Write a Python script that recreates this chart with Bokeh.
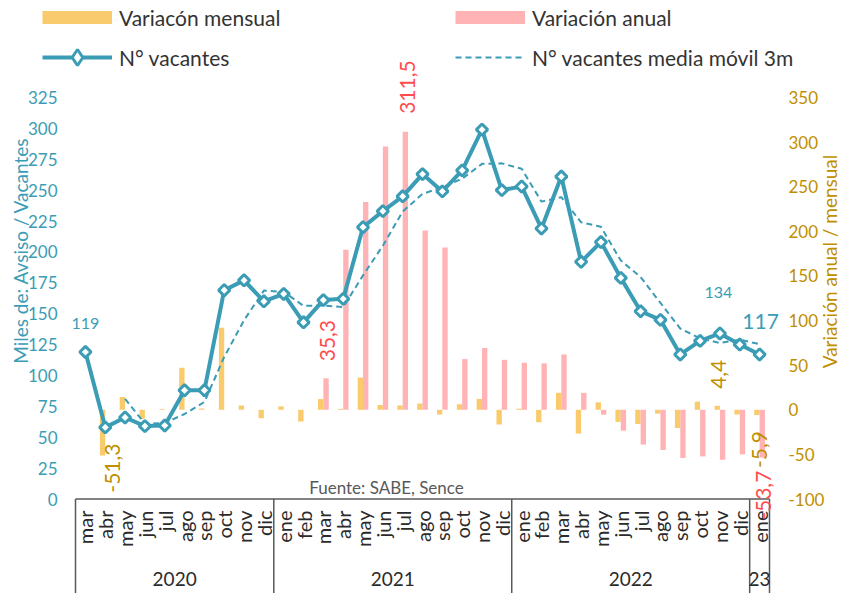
import math
from bokeh.plotting import figure
from bokeh.models import ColumnDataSource, Range1d, Legend, LegendItem
from bokeh.core.properties import value
from bokeh.transform import dodge
from bokeh.embed import file_html
from bokeh.resources import INLINE

NAN = float("nan")

# ---------------- data ----------------
meses = ["mar", "abr", "may", "jun", "jul", "ago", "sep", "oct", "nov", "dic",
         "ene", "feb", "mar", "abr", "may", "jun", "jul", "ago", "sep", "oct", "nov", "dic",
         "ene", "feb", "mar", "abr", "may", "jun", "jul", "ago", "sep", "oct", "nov", "dic",
         "ene"]
anios = ["2020"] * 10 + ["2021"] * 12 + ["2022"] * 12 + ["23"]

vacantes = [119, 58, 66, 59, 59.5, 88, 88, 169, 177, 160,
            166, 143, 161, 162, 220, 233, 245, 263, 249, 266, 299, 250,
            253, 219, 261, 192, 208, 179, 152, 145, 117, 128, 134, 125,
            117]
media_movil = [NAN, NAN, 81.0, 61.0, 61.5, 68.8, 78.5, 115.0, 144.7, 168.7,
               167.7, 156.3, 156.7, 155.3, 181.0, 205.0, 232.7, 247.0, 252.3, 259.3, 271.3, 271.7,
               267.3, 240.7, 244.3, 224.0, 220.3, 193.0, 179.7, 158.7, 138.0, 130.0, 126.3, 129.0,
               125.3]
var_mensual = [NAN, -51.3, 14.4, -10.0, 0.8, 47.0, 1.5, 92.0, 4.8, -9.5,
               3.8, -13.2, 12.0, 1.0, 36.0, 5.4, 4.8, 7.0, -5.4, 6.2, 12.2, -16.5,
               1.2, -14.0, 19.0, -26.7, 8.4, -13.6, -16.0, -4.3, -20.4, 9.2, 4.4, -5.3,
               -5.9]
var_anual = [NAN] * 12 + [35.3, 179.4, 233.0, 295.0, 311.5, 200.8, 182.0, 56.8, 69.2, 56.0,
                          52.7, 52.0, 62.0, 19.0, -5.5, -23.4, -39.0, -45.0, -54.0, -52.3, -56.0, -50.0,
                          -53.7]

ticks_izq = [0, 25, 50, 75, 100, 125, 150, 175, 200, 225, 250, 275, 300, 325]
ticks_der = [-100, -50, 0, 50, 100, 150, 200, 250, 300, 350]

etiq_mensual = [1, 32, 34]
etiq_anual = [12, 16, 34]
etiq_vac = [0, 32, 34]

titulo_izq = "Miles de: Avsiso / Vacantes"
titulo_der = "Variación anual / mensual"
fuente = "Fuente: SABE, Sence"

# ---------------- style / geometry ----------------
TEAL = "#3B9CB5"
ORANGE = "#F9CB6C"
PINK = "#FFB3B5"
GOLD = "#BF8F00"
RED = "#FF4D4D"
GRAY = "#595959"
DARK = "#2B2B2B"
FONT = "Lato"

W, H = 846, 593
n = len(meses)
PLOT_L, PLOT_R = 75.0, 769.0          # category band in pixels
X_PPU = (PLOT_R - PLOT_L) / n
xr0 = -PLOT_L / X_PPU
xr1 = n + (W - PLOT_R) / X_PPU

ZERO_PX, TOP_PX = 498.5, 97.0         # left 0 / right -100 ; left 325 / right 350
L_PPU = (ZERO_PX - TOP_PX) / 325.0
yl0 = -(H - ZERO_PX) / L_PPU
yl1 = 325 + TOP_PX / L_PPU
R_PPU = (ZERO_PX - TOP_PX) / 450.0
yr0 = -100 - (H - ZERO_PX) / R_PPU
yr1 = 350 + TOP_PX / R_PPU


def px_x(px):      # pixel column -> x data
    return (px - PLOT_L) / X_PPU


def px_yl(py):     # pixel row -> left-axis data
    return (ZERO_PX - py) / L_PPU


BW = 0.27

x = [i + 0.5 for i in range(n)]
src = ColumnDataSource(dict(x=x, mes=meses, vac=vacantes, mm=media_movil,
                            mens=var_mensual, anual=var_anual))

p = figure(width=W, height=H, output_backend="svg", toolbar_location=None,
           x_range=Range1d(xr0, xr1), y_range=Range1d(yl0, yl1),
           x_axis_location=None, y_axis_location=None,
           min_border_left=0, min_border_right=0, min_border_top=0, min_border_bottom=0,
           outline_line_color=None, border_fill_color="white",
           background_fill_color="white")
p.grid.visible = False
p.extra_y_ranges = {"r": Range1d(yr0, yr1)}

# axis tick labels
p.text(x=[px_x(57)] * len(ticks_izq), y=ticks_izq, text=[str(t) for t in ticks_izq],
       text_align="right", text_baseline="middle", text_font=value(FONT),
       text_font_size="17px", text_color=TEAL)
p.text(x=[px_x(788)] * len(ticks_der), y=ticks_der, text=[str(t) for t in ticks_der],
       y_range_name="r", text_align="left", text_baseline="middle", text_font=value(FONT),
       text_font_size="17px", text_color=GOLD)

# axis titles
p.text(x=[px_x(19.5)], y=[px_yl(250)], text=[titulo_izq], angle=math.pi / 2,
       text_align="center", text_baseline="middle", text_font=value(FONT),
       text_font_size="19px", text_color=TEAL)
p.text(x=[px_x(829)], y=[px_yl(261)], text=[titulo_der], angle=math.pi / 2,
       text_align="center", text_baseline="middle", text_font=value(FONT),
       text_font_size="19px", text_color=GOLD)

# bars
p.vbar(x=dodge("x", -BW / 2), top="mens", bottom=0, width=BW, source=src,
       y_range_name="r", fill_color=ORANGE, line_color=None)
p.vbar(x=dodge("x", BW / 2), top="anual", bottom=0, width=BW, source=src,
       y_range_name="r", fill_color=PINK, line_color=None)

# lines
mm_r = p.line(x="x", y="mm", source=src, line_color=TEAL, line_width=2, line_dash="6 4")
ln_r = p.line(x="x", y="vac", source=src, line_color=TEAL, line_width=4)
mk_r = p.scatter(x="x", y="vac", source=src, marker="square", size=8, angle=math.pi / 4,
                 fill_color="white", line_color=TEAL, line_width=3)

# category axis line and group separators
p.segment(x0=[0], y0=[0], x1=[n], y1=[0], line_color=GRAY, line_width=1.5)
bounds = [0]
names, centers = [], []
start = 0
for i in range(1, n + 1):
    if i == n or anios[i] != anios[start]:
        names.append(anios[start])
        centers.append((start + i) / 2)
        bounds.append(i)
        start = i
p.segment(x0=bounds, y0=[0] * len(bounds), x1=bounds, y1=[yl0] * len(bounds),
          line_color=GRAY, line_width=1.5)

# month labels
p.text(x="x", y=px_yl(510), text="mes", source=src, angle=math.pi / 2,
       text_align="right", text_baseline="middle", text_font=value(FONT),
       text_font_size="20px", text_color=DARK)
# year labels
p.text(x=centers, y=[px_yl(578)] * len(centers), text=names, text_align="center",
       text_baseline="middle", text_font=value(FONT), text_font_size="19px",
       text_color=DARK)

# source note
p.text(x=[px_x(386)], y=[px_yl(487)], text=[fuente],
       text_align="center", text_baseline="middle", text_font=value(FONT),
       text_font_size="17px", text_color=GRAY)


# data labels
def fmt(v):
    return f"{v:.1f}".replace(".", ",")


OFF_MENS = {1: (9.5, -12), 32: (1.5, 17), 34: (2.5, 16)}
OFF_ANUAL = {12: (1.5, 17), 16: (2.5, 18), 34: (1.0, 13)}
OFF_VAC = {0: (0, 28.5, "16px"), 32: (-1.5, 40.5, "16px"), 34: (1, 32.5, "21px")}


def bar_labels(idx, vals, offs, shift, color):
    for i in idx:
        v = vals[i]
        dx, gap = offs[i]
        xx = x[i] + shift + dx / X_PPU
        if v >= 0:
            yy = v + gap / R_PPU
            al = "left"
        else:
            yy = v - gap / R_PPU
            al = "right"
        p.text(x=[xx], y=[yy], text=[fmt(v)], angle=math.pi / 2, y_range_name="r",
               text_align=al, text_baseline="middle", text_font=value(FONT),
               text_font_size="21px", text_color=color)


bar_labels(etiq_mensual, var_mensual, OFF_MENS, -BW / 2, GOLD)
bar_labels(etiq_anual, var_anual, OFF_ANUAL, BW / 2, RED)

for i in etiq_vac:
    dx, dy, fs = OFF_VAC[i]
    p.text(x=[x[i] + dx / X_PPU], y=[vacantes[i] + dy / L_PPU], text=[f"{vacantes[i]:.0f}"],
           text_align="center", text_baseline="middle", text_font=value(FONT),
           text_font_size=fs, text_color=TEAL)

# legend (proxy keys: thick line swatches for the bars, diamond key for the marker)
px_m = p.line(x=[NAN], y=[NAN], line_color=ORANGE, line_width=13)
px_a = p.line(x=[NAN], y=[NAN], line_color=PINK, line_width=13)
px_d = p.scatter(x=[NAN], y=[NAN], marker="diamond", size=16, fill_color="white",
                 line_color=TEAL, line_width=3)
legend = Legend(items=[LegendItem(label="Variacón mensual", renderers=[px_m]),
                       LegendItem(label="Variación anual", renderers=[px_a]),
                       LegendItem(label="N° vacantes", renderers=[ln_r, px_d]),
                       LegendItem(label="N° vacantes media móvil 3m", renderers=[mm_r])],
                location=(42, H - 77), orientation="horizontal", ncols=2,
                glyph_width=70, glyph_height=40, label_height=16, label_width=336,
                label_standoff=7, spacing=0, padding=0, margin=0,
                border_line_color=None, background_fill_alpha=0,
                label_text_font=FONT, label_text_font_size="21px",
                label_text_color="#333333")
p.add_layout(legend)

open("out.html", "w").write(file_html(p, INLINE))
